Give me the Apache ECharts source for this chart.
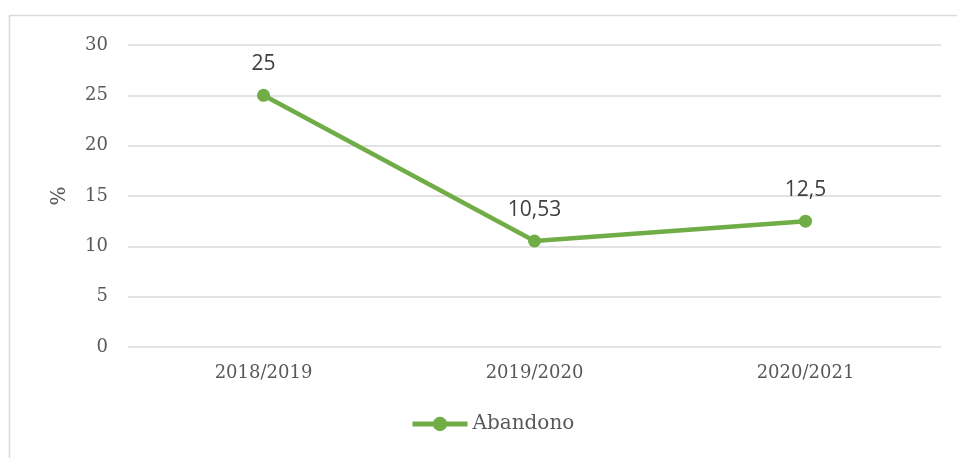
<!DOCTYPE html>
<html>
<head>
<meta charset="utf-8">
<script src="https://cdn.jsdelivr.net/npm/echarts@6/dist/echarts.min.js"></script>
<style>
html, body { margin: 0; padding: 0; background: #fff; }
#chart { width: 957px; height: 458px; }
</style>
</head>
<body>
<div id="chart"></div>
<script>
// Abandono por año lectivo
var categories = ['2018/2019', '2019/2020', '2020/2021'];
var abandono = [25, 10.53, 12.5];
var yTicks = [0, 5, 10, 15, 20, 25, 30];

var serif = 'DejaVu Serif';
var green = '#70AD47';

var myChart = echarts.init(document.getElementById('chart'));

var option = {
	animation: false,
	graphic: [{
		type: 'rect',
		shape: { x: 9.5, y: 15.5, width: 960, height: 460 },
		style: { fill: 'none', stroke: '#d9d9d9', lineWidth: 1.5 },
		silent: true
	}],
	grid: {
		left: 128,
		right: 16,
		top: 45,
		bottom: 111
	},
	legend: {
		bottom: 19,
		left: 405,
		itemWidth: 55,
		itemHeight: 18,
		itemGap: 6,
		lineStyle: { width: 5 },
		textStyle: { fontFamily: serif, fontSize: 20, color: '#595959' },
		data: ['Abandono']
	},
	xAxis: {
		type: 'category',
		data: categories,
		axisLine: { show: false },
		axisTick: { show: false },
		axisLabel: { fontFamily: serif, fontSize: 18, color: '#595959', margin: 17 }
	},
	yAxis: {
		type: 'value',
		min: yTicks[0],
		max: yTicks[yTicks.length - 1],
		interval: 5,
		name: '%',
		nameLocation: 'middle',
		nameGap: 58,
		nameTextStyle: { fontFamily: serif, fontSize: 20, color: '#595959' },
		axisLabel: { fontFamily: serif, fontSize: 18, color: '#595959', margin: 20 },
		splitLine: { lineStyle: { color: '#d9d9d9', width: 1.5 } }
	},
	series: [{
		name: 'Abandono',
		type: 'line',
		data: abandono,
		color: green,
		symbol: 'circle',
		symbolSize: 13,
		lineStyle: { width: 4.5, color: green },
		itemStyle: { color: green },
		label: {
			show: true,
			position: 'top',
			distance: 14,
			fontFamily: 'Open Sans',
			fontSize: 21,
			color: '#404040',
			formatter: function (p) {
				return String(p.value).replace('.', ',');
			}
		}
	}]
};

myChart.setOption(option);
</script>
</body>
</html>
